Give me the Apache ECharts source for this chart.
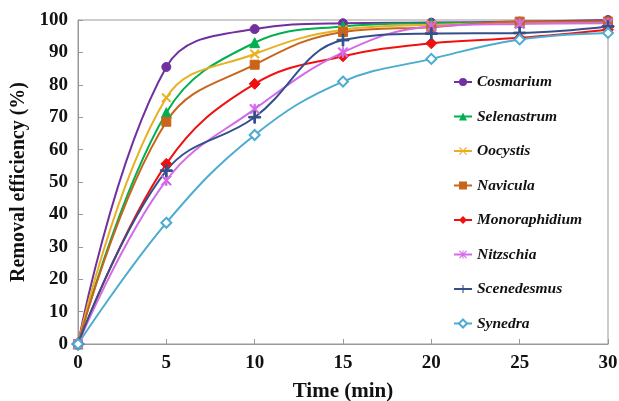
<!DOCTYPE html>
<html>
<head>
<meta charset="utf-8">
<script src="https://cdn.jsdelivr.net/npm/echarts@6/dist/echarts.min.js"></script>
<style>
  html, body { margin: 0; padding: 0; background: #fff; }
  #chart { width: 619px; height: 401px; }
</style>
</head>
<body>
<div id="chart"></div>
<script>
// time points (min)
var times = [0, 5, 10, 15, 20, 25, 30];
var xTicks = [0, 5, 10, 15, 20, 25, 30];
var yTicks = [0, 10, 20, 30, 40, 50, 60, 70, 80, 90, 100];

// removal efficiency (%)
var cosmarium     = [0, 85.5, 97.2, 99.0, 99.2, 99.5, 100];
var selenastrum   = [0, 71.4, 93.0, 98.0, 99.0, 99.2, 99.5];
var oocystis      = [0, 76.0, 89.5, 97.0, 98.5, 99.0, 99.2];
var navicula      = [0, 68.6, 86.2, 96.3, 97.8, 99.5, 99.5];
var monoraphidium = [0, 55.6, 80.3, 88.8, 92.8, 94.5, 97.0];
var nitzschia     = [0, 50.5, 72.5, 90.0, 98.0, 98.8, 99.0];
var scenedesmus   = [0, 53.5, 70.0, 93.8, 95.8, 96.0, 98.0];
var synedra       = [0, 37.4, 64.5, 81.0, 88.0, 94.0, 96.0];

var plusPath = 'path://M4.3,0h1.4v10h-1.4z M0,4.3h10v1.4h-10z';
var xPath = 'path://M0,1 L1,0 L10,9 L9,10 Z M9,0 L10,1 L1,10 L0,9 Z';
var starPath = 'path://M0,1 L1,0 L10,9 L9,10 Z M9,0 L10,1 L1,10 L0,9 Z M4.4,0h1.2v10h-1.4z';

var seriesDefs = [
  { name: 'Cosmarium', data: cosmarium, color: '#7030A0', symbol: 'circle', size: 9 },
  { name: 'Selenastrum', data: selenastrum, color: '#00B050', symbol: 'triangle', size: 10 },
  { name: 'Oocystis', data: oocystis, color: '#E8B020', symbol: xPath, size: 9 },
  { name: 'Navicula', data: navicula, color: '#C8651B', symbol: 'rect', size: 9 },
  { name: 'Monoraphidium', data: monoraphidium, color: '#F01010', symbol: 'diamond', size: 11 },
  { name: 'Nitzschia', data: nitzschia, color: '#D36BE8', symbol: starPath, size: 10 },
  { name: 'Scenedesmus', data: scenedesmus, color: '#34508A', symbol: plusPath, size: 12 },
  { name: 'Synedra', data: synedra, color: '#4BACD0', symbol: 'emptyDiamond', size: 10 }
];

var Series = seriesDefs.map(function (s) {
  return {
    name: s.name,
    type: 'line',
    smooth: 0.4,
    symbol: s.symbol,
    symbolSize: s.size,
    showAllSymbol: true,
    lineStyle: { width: 2, color: s.color },
    itemStyle: { color: s.color, borderColor: s.color },
    data: times.map(function (t, i) { return [t, s.data[i]]; })
  };
});

var chart = echarts.init(document.getElementById('chart'));
chart.setOption({
  animation: false,
  textStyle: { fontFamily: 'Liberation Serif' },
  grid: {
    left: 78, right: 11, top: 20, bottom: 57,
    outerBoundsMode: 'none',
    show: true, borderColor: '#999', borderWidth: 1
  },
  legend: {
    orient: 'vertical',
    left: 448,
    top: 69,
    itemGap: 18.5,
    itemWidth: 18,
    itemHeight: 10,
    textStyle: {
      fontFamily: 'Liberation Serif', fontWeight: 'bold', fontStyle: 'italic',
      fontSize: 15.5, color: '#111'
    },
    data: seriesDefs.map(function (s) { return s.name; })
  },
  xAxis: {
    type: 'value',
    min: xTicks[0], max: xTicks[xTicks.length - 1], interval: 5,
    name: 'Time (min)',
    nameLocation: 'middle',
    nameGap: 37,
    nameTextStyle: { fontFamily: 'Liberation Serif', fontWeight: 'bold', fontSize: 21, color: '#111' },
    axisLine: { lineStyle: { color: '#999' } },
    axisTick: { inside: true, length: 5, lineStyle: { color: '#999' } },
    splitLine: { show: false },
    axisLabel: { margin: 10, fontFamily: 'Liberation Serif', fontWeight: 'bold', fontSize: 19, color: '#111' }
  },
  yAxis: {
    type: 'value',
    min: yTicks[0], max: yTicks[yTicks.length - 1], interval: 10,
    name: 'Removal efficiency (%)',
    nameLocation: 'middle',
    nameGap: 48,
    nameRotate: 90,
    nameTextStyle: { fontFamily: 'Liberation Serif', fontWeight: 'bold', fontSize: 20, color: '#111' },
    axisLine: { show: true, lineStyle: { color: '#999' } },
    axisTick: { show: true, inside: true, length: 5, lineStyle: { color: '#999' } },
    splitLine: { show: false },
    axisLabel: { margin: 10, fontFamily: 'Liberation Serif', fontWeight: 'bold', fontSize: 19, color: '#111' }
  },
  series: Series
});
</script>
</body>
</html>
